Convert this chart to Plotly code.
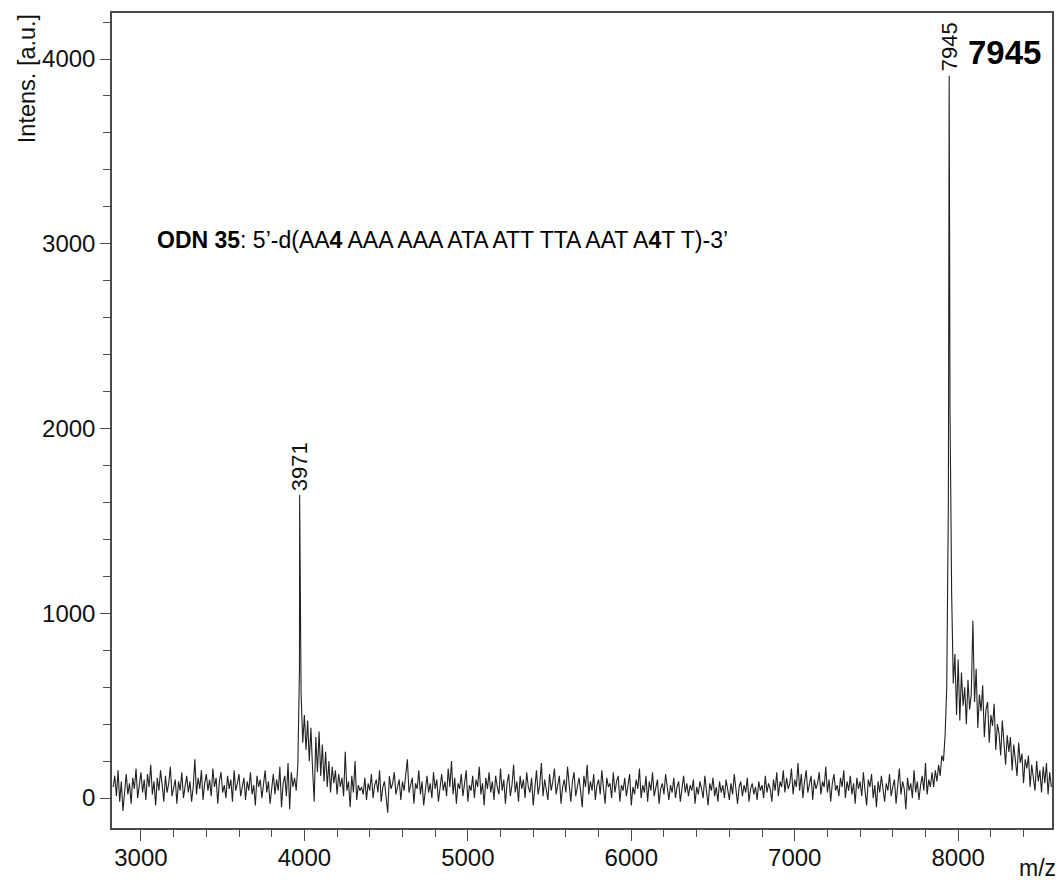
import numpy as np
import plotly.graph_objects as go

# m/z sampling grid of the spectrum (Da)
mz_start = 2830
mz_step = 10

# Intensities [a.u.] on the grid, in blocks along the m/z axis
# 2830-3940: baseline before the half-mass ion
intensity_low = [
    60, 120, 10, 150, -20, 90, -70, 40, 130, 20, 80, -30, 110, 50, 160, 0, 70, 140, 30, 100,
    -10, 130, 60, 180, 20, 90, -40, 110, 40, 150, 70, -20, 120, 30, 80, 170, 10, 60, 100, -30,
    90, 40, 140, 0, 70, 120, 30, 90, -20, 60, 210, 20, 110, 50, 150, -10, 80, 130, 40, 100,
    10, 160, 60, 110, -30, 90, 140, 30, 70, 0, 120, 50, 100, -20, 150, 40, 80, 130, 10, 60,
    110, -10, 90, 40, 140, 20, 70, -40, 120, 60, 100, 0, 80, 150, 30, 90, -30, 60, 130, 20,
    100, 40, 170, -50, 80, 120, 10, 190, -60, 140, 60, 110,
]
# 3950-4340: doubly charged ion and its tail
intensity_half = [
    40, 180, 700, 560, 300, 450, 260, 420, 200, 380,
    160, -20, 330, 140, 360, 120, 290, 90, 250, 60,
    200, 30, 170, 80, 150, 20, 130, 60, 110, 10,
    250, 40, 90, -50, 120, 30, 200, -10, 70, 40,
]
# 4350-7840: baseline between the ions
intensity_mid = [
    60, 20, 110, -10, 80, 40, 130, 0, 70, 100, 30, 150, -20, 60, 90, 10, -80, 120, 50, 80,
    140, 20, 60, 100, -10, 90, 40, 130, 210, 30, 70, 110, -30, 80, 50, 150, 20, 90, -40, 60,
    120, 30, 80, 0, 140, 50, 100, -20, 70, 130, 40, 90, 10, 160, 60, 200, 20, 110, -30, 80,
    50, 130, 10, 90, 150, -20, 70, 40, 120, 0, 100, 60, 170, 20, 80, -40, 110, 50, 140, 30,
    90, -10, 120, 60, 20, 160, 40, 100, -30, 80, 130, 10, 70, 180, 30, 90, -20, 120, 50, 100,
    0, 140, 60, 30, 110, -40, 80, 150, 20, 70, 190, 10, 100, 50, -10, 130, 40, 90, 160, 20,
    80, 120, -30, 60, 100, 30, 170, 50, -20, 90, 140, 10, 70, 110, 40, -50, 120, 60, 180, 20,
    90, 40, 130, -10, 70, 100, 20, 150, 50, -30, 110, 60, 80, 0, 140, 30, 90, 120, -20, 70,
    40, 110, 10, 80, 130, -40, 60, 20, 100, 50, 160, 0, 70, 30, 120, -20, 90, 40, 140, 10,
    60, 100, -30, 50, 80, 20, 130, 40, -10, 70, 30, 110, 0, 60, 90, -20, 50, 120, 30, 80,
    10, 70, 40, 100, -30, 60, 20, 90, 50, 0, 120, 30, -40, 80, 40, 110, 10, 60, -20, 90,
    30, 70, 0, 100, 40, -10, 80, 20, 130, 50, -30, 60, 90, 10, 70, 30, 110, -20, 50, 80,
    20, 60, -10, 90, 40, 70, 0, 120, 30, 80, 50, -20, 100, 40, 140, 10, 90, 60, 150, 30,
    110, 50, 80, 160, 20, 100, 60, 190, 40, 130, 0, 90, 150, 30, 70, 120, -10, 100, 50, 80,
    140, 20, 90, 60, 170, 30, 100, -20, 80, 130, 40, 70, 10, 110, 60, 150, 0, 90, 40, 120,
    20, 80, -30, 110, 50, 90, 10, 140, 40, -40, 100, 60, 130, 0, 70, -50, 90, 30, 120, 50,
    -20, 80, 40, 130, 10, 60, 100, -30, 70, 160, 20, 90, 50, -60, 110, 40, 80, 0, 150, 30,
    90, -10, 70, 120, 40, 190, 20, 100, 60, 140,
]
# 7850-8570: molecular ion, adducts and tail
intensity_high = [
    60, 150, 90, 180, 120, 230, 200, 340, 600, 1600,
    2100, 1110, 620, 780, 450, 750, 420, 680, 500, 600,
    400, 640, 480, 560, 960,
    520, 700, 380, 560, 470, 610, 330, 480, 520, 300,
    450, 390, 510, 260, 400, 350, 230, 420, 300, 180,
    340, 250, 330, 150, 290, 220, 120, 300, 190, 240,
    80, 210, 160, 230, 60, 180, 120, 40, 200, 90,
    150, 30, 170, 80, 190, 20, 140, 60,
]

# labelled peak apices
peak_mz = [3971, 7945]
peak_intensity = [1640, 3910]

grid_intensity = intensity_low + intensity_half + intensity_mid + intensity_high
grid_mz = mz_start + mz_step * np.arange(len(grid_intensity))

mz = np.concatenate([grid_mz, peak_mz])
inten = np.concatenate([grid_intensity, peak_intensity])
order = np.argsort(mz, kind="stable")
mz, inten = mz[order], inten[order]

FONT = "Liberation Sans, Arial, sans-serif"

fig = go.Figure()
fig.add_trace(go.Scatter(
    x=mz, y=inten, mode="lines",
    line=dict(color="#222222", width=1.1),
    hoverinfo="x+y", showlegend=False,
))

# peak labels
for pm, pi in zip(peak_mz, peak_intensity):
    fig.add_annotation(
        x=pm, y=pi, xref="x", yref="y", text=str(pm), showarrow=False,
        textangle=-90, xanchor="center", yanchor="bottom", yshift=2,
        font=dict(family=FONT, size=22, color="#111"),
    )

fig.add_annotation(
    x=0.949, y=0.951, xref="paper", yref="paper", text="<b>7945</b>",
    showarrow=False, xanchor="center", yanchor="middle",
    font=dict(family=FONT, size=33, color="#000"),
)

fig.add_annotation(
    x=(155 - 112) / 942, y=(828 - 240) / 815, xref="paper", yref="paper",
    text="<b>ODN 35</b>: 5’-d(AA<b>4</b> AAA AAA ATA ATT TTA AAT A<b>4</b>T T)-3’",
    showarrow=False, xanchor="left", yanchor="middle",
    font=dict(family=FONT, size=23, color="#000"),
)

fig.add_annotation(
    x=(27 - 112) / 942, y=(828 - 79) / 815, xref="paper", yref="paper",
    text="Intens. [a.u.]", textangle=-90, showarrow=False,
    xanchor="center", yanchor="middle",
    font=dict(family=FONT, size=23.5, color="#111"),
)

fig.add_annotation(
    x=(1039 - 112) / 942, y=(828 - 868) / 815, xref="paper", yref="paper",
    text="m/z", showarrow=False, xanchor="center", yanchor="middle",
    font=dict(family=FONT, size=23, color="#111"),
)

axis_common = dict(
    showline=True, mirror=True, linecolor="#4a4a4a", linewidth=1.5,
    showgrid=False, zeroline=False, ticks="outside", tickcolor="#4a4a4a",
    tickwidth=1.3, tickfont=dict(family=FONT, size=24, color="#111"),
)

fig.update_xaxes(
    range=[2823, 8574], tick0=0, dtick=1000, ticklen=11, ticklabelstandoff=-4,
    minor=dict(dtick=200, ticks="outside", ticklen=7, tickcolor="#4a4a4a", tickwidth=1.2),
    **axis_common,
)
fig.update_yaxes(
    range=[-162, 4249], tick0=0, dtick=1000, ticklen=10,
    minor=dict(dtick=200, ticks="outside", ticklen=7, tickcolor="#4a4a4a", tickwidth=1.2),
    **axis_common,
)

fig.update_layout(
    width=1061, height=884,
    margin=dict(l=112, r=7, t=13, b=56),
    paper_bgcolor="white", plot_bgcolor="white",
    font=dict(family=FONT),
)

fig.write_html("out.html")
